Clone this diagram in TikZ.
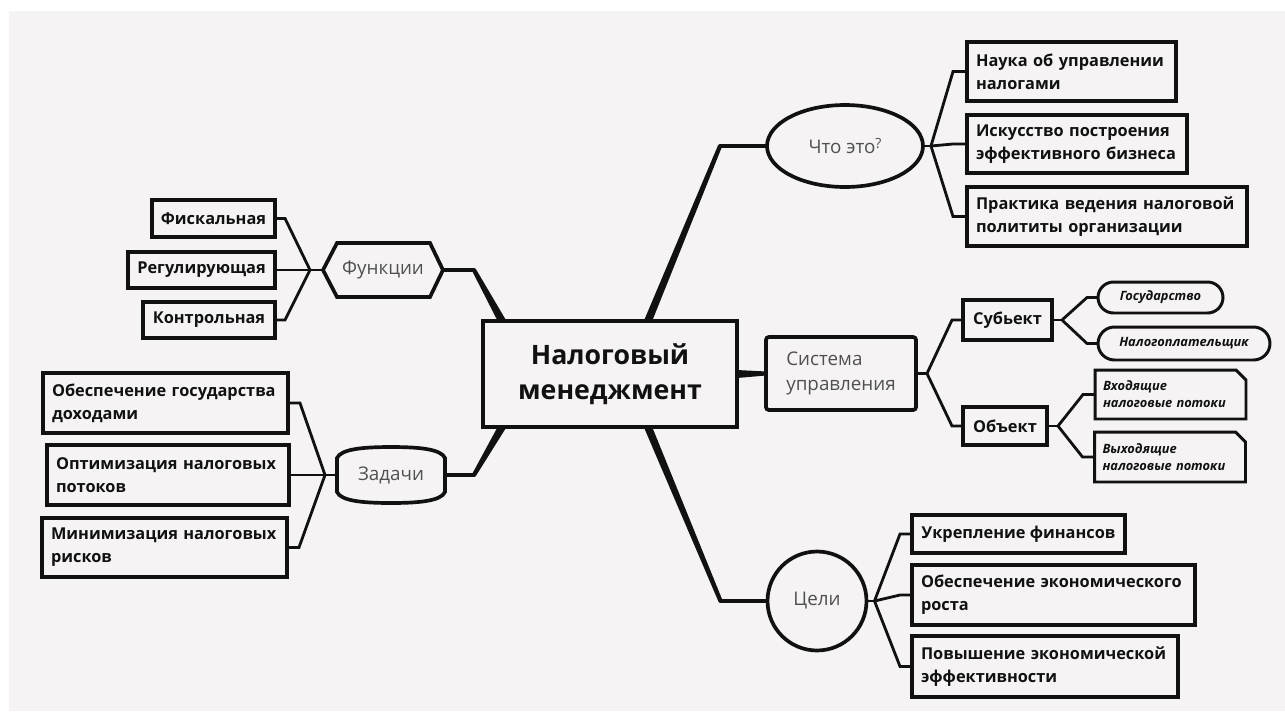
\documentclass[tikz,border=0pt]{standalone}
\usepackage{fontspec}
\setmainfont{Open Sans}
\usepackage{tikz}
\usetikzlibrary{positioning,calc,shapes.geometric,shapes.misc}
\definecolor{pagegrey}{HTML}{F5F3F4}
\definecolor{inkblack}{HTML}{111111}
\definecolor{hubgrey}{HTML}{505050}
\tikzset{
  mm/.style={inner sep=0pt, outer sep=0pt, align=center},
  mm leaf/.style={mm, draw=inkblack, line width=1.9pt, fill=pagegrey, text=inkblack,
                  font=\fontsize{9.3}{13}\selectfont\bfseries, inner xsep=0.18cm},
  mm note/.style={mm, draw=inkblack, line width=1.7pt, fill=pagegrey, text=inkblack,
                  font=\fontsize{7.3}{9.8}\selectfont\bfseries\itshape},
  mm hub/.style={mm, draw=inkblack, line width=2.1pt, fill=pagegrey, text=hubgrey,
                 font=\fontsize{10.7}{14.5}\selectfont},
  mm root/.style={mm, draw=inkblack, line width=2.6pt, fill=pagegrey, text=inkblack,
                  font=\fontsize{15.2}{20}\selectfont\bfseries},
  mm twig/.style={draw=inkblack, line width=1.6pt},
  mm trunk/.style={draw=inkblack, line width=2.2pt},
}

\begin{document}
\begin{tikzpicture}[x=0.02cm, y=-0.02cm,
  box/.style={mm leaf, align=left},
  tab/.style={mm note, draw=none, align=left, text width=2.7cm, inner xsep=0.16cm}]
  \useasboundingbox (0,0) rectangle (1285,711);
  \fill[white] (0,0) rectangle (1285,711);
  \fill[pagegrey] (9,11) rectangle (1285,711);
  % centre
  \node[mm root, minimum width=5.08cm, minimum height=2.12cm] (nm) at (610,374) {Налоговый\\менеджмент};
  % what is it
  \node[mm hub, ellipse, minimum width=3.12cm, minimum height=1.64cm] (chto) at (845,146)
    {Что это{\fontsize{8}{8}\selectfont\raisebox{0.75ex}{?}}};
  \node[box, text width=3.82cm, minimum height=1.18cm] (nauka) at (1071.5,71.5) {Наука об управлении\\налогами};
  \node[box, text width=4.04cm, minimum height=1.16cm] (iskus) at (1077,144) {Искусство построения\\эффективного бизнеса};
  \node[box, text width=5.24cm, minimum height=1.18cm] (prakt) at (1107,216.5) {Практика ведения налоговой\\полититы организации};
  % management system
  \node[mm hub, rounded corners=1.6pt, align=left, minimum width=3cm, minimum height=1.46cm] (sys) at (841,373.5) {Система\\управления};
  \node[mm leaf, minimum width=1.78cm, minimum height=0.8cm] (subj) at (1007.5,320) {Субьект};
  \node[mm leaf, minimum width=1.68cm, minimum height=0.76cm] (obj) at (1005,426) {Объект};
  \node[mm note, rounded rectangle, minimum width=2.5cm, minimum height=0.62cm] (gos) at (1160.5,297.5) {Государство};
  \node[mm note, rounded rectangle, minimum width=3.44cm, minimum height=0.66cm] (nalpl) at (1184,343.5) {Налогоплательщик};
  \node[tab, minimum height=0.98cm] (vhod) at (1170.5,394.5) {Входящие\\налоговые потоки};
  \node[tab, minimum height=1cm] (vyhod) at (1170,457) {Выходящие\\налоговые потоки};
  \foreach \n in {vhod,vyhod}
    \draw[mm twig, line width=1.7pt] (\n.south west) -- (\n.north west) -- ($(\n.north east)+(-10,0)$)
      -- ($(\n.north east)+(0,10)$) -- (\n.south east) -- cycle;
  % goals
  \node[mm hub, circle, minimum size=1.98cm] (celi) at (817,601) {Цели};
  \node[mm leaf, minimum width=4.26cm, minimum height=0.76cm] (ukrep) at (1018.5,534) {Укрепление финансов};
  \node[box, text width=5.3cm, minimum height=1.2cm] (obek) at (1053.5,595) {Обеспечение экономического\\роста};
  \node[box, text width=4.96cm, minimum height=1.22cm] (povysh) at (1045,666.5) {Повышение экономической\\эффективности};
  % functions
  \node[mm, text=hubgrey, font=\fontsize{10.7}{14.5}\selectfont, minimum width=2.4cm, minimum height=1.08cm] (fn) at (383,270) {Функции};
  \draw[mm twig, line width=2.1pt] (fn.west) -- ($(fn.north west)+(14,0)$) -- ($(fn.north east)+(-13,0)$)
    -- (fn.east) -- ($(fn.south east)+(-13,0)$) -- ($(fn.south west)+(14,0)$) -- cycle;
  \node[mm leaf, minimum width=2.46cm, minimum height=0.74cm] (fisk) at (213.5,218.5) {Фискальная};
  \node[mm leaf, minimum width=2.94cm, minimum height=0.72cm] (regul) at (201.5,270) {Регулирующая};
  \node[mm leaf, minimum width=2.64cm, minimum height=0.72cm] (kontr) at (209,320) {Контрольная};
  % tasks
  \node[mm, text=hubgrey, font=\fontsize{10.7}{14.5}\selectfont, minimum width=2.16cm, minimum height=1.12cm] (zd) at (391,475) {Задачи};
  \draw[mm twig, line width=2.1pt] ($(zd.west)+(0,-17)$) .. controls ($(zd.north west)+(4,2)$) and ($(zd.north)+(-28,0)$) .. (zd.north)
    .. controls ($(zd.north)+(28,0)$) and ($(zd.north east)+(-4,2)$) .. ($(zd.east)+(0,-17)$) -- ($(zd.east)+(0,17)$)
    .. controls ($(zd.south east)+(-4,-2)$) and ($(zd.south)+(28,0)$) .. (zd.south)
    .. controls ($(zd.south)+(-28,0)$) and ($(zd.south west)+(4,-2)$) .. ($(zd.west)+(0,17)$) -- cycle;
  \node[box, text width=4.54cm, minimum height=1.2cm] (obgos) at (165.5,403) {Обеспечение государства\\доходами};
  \node[box, text width=4.48cm, minimum height=1.2cm] (optim) at (168,475) {Оптимизация налоговых\\потоков};
  \node[box, text width=4.54cm, minimum height=1.18cm] (minim) at (164.5,547.5) {Минимизация налоговых\\рисков};
  % trunks from the centre, tapering
  \foreach \hb/\s/\dx/\bx/\ha in {chto/north/38/-47/west, celi/south/38/-47/west, fn/north/-108/31/east, zd/south/-108/29/east} {
    \coordinate (a\hb) at ($(nm.\s)+(\dx,0)$);
    \coordinate (k\hb) at ($(\hb.\ha)+(\bx,0)$);
    \fill[inkblack] ($(a\hb)!2.2pt!90:(k\hb)$) -- ($(k\hb)!1.2pt!-90:(a\hb)$) -- ($(k\hb)!1.2pt!90:(a\hb)$)
      -- ($(a\hb)!2.2pt!-90:(k\hb)$) -- cycle;
    \fill[inkblack] (k\hb) circle (1.15pt);
    \draw[mm trunk] (k\hb) -- (\hb.\ha);
  }
  \fill[inkblack] ($(nm.east)+(0,-4)$) -- ($(sys.west)+(0,-2)$) -- ($(sys.west)+(0,2)$) -- ($(nm.east)+(0,4)$) -- cycle;
  % twigs to the leaves
  \foreach \hb/\ha/\jx/\ca/\bx/\kids in {chto/east/8/west/-14/{nauka,iskus,prakt}, sys/east/11/west/-11/{subj,obj},
      subj/east/10/west/-11/{gos,nalpl}, obj/east/11/west/-12/{vhod,vyhod}, celi/east/8/west/-12/{ukrep,obek,povysh},
      fn/west/-13/east/10/{fisk,regul,kontr}, zd/west/-12/east/12/{obgos,optim,minim}} {
    \coordinate (j\hb) at ($(\hb.\ha)+(\jx,0)$);
    \draw[mm twig] (\hb.\ha) -- (j\hb);
    \foreach \k in \kids
      \draw[mm twig] (j\hb) -- ($(\k.\ca)+(\bx,0)$) -- (\k.\ca);
  }
\end{tikzpicture}
\end{document}
